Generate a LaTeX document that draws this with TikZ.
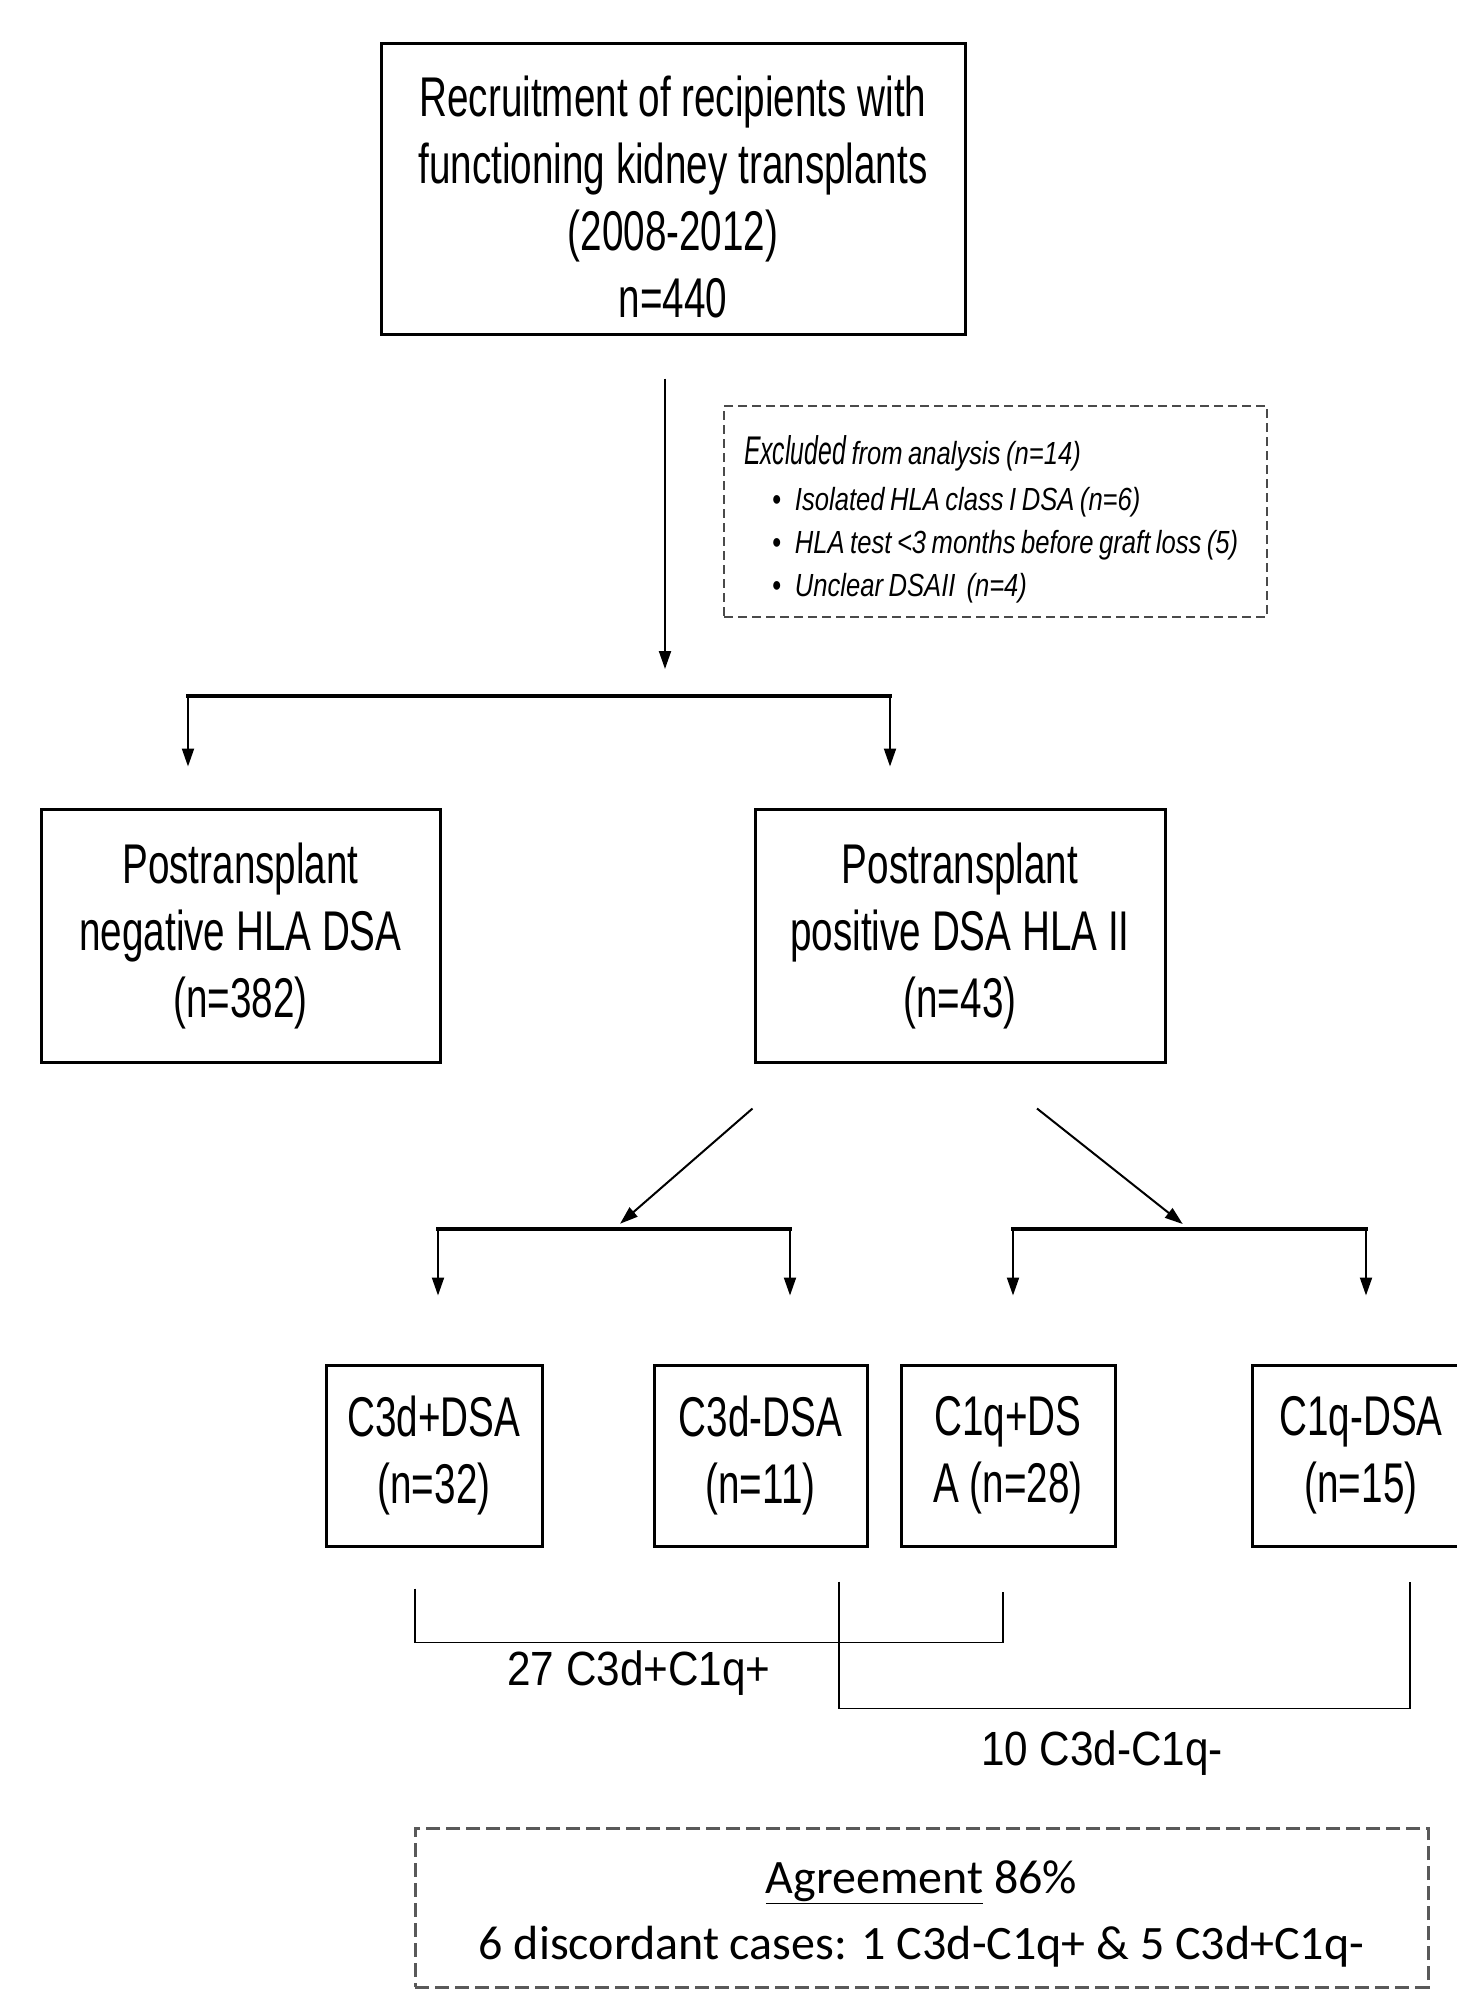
\documentclass[tikz,border=0pt]{standalone}
\usepackage{fontspec}
\usetikzlibrary{arrows.meta}
\newfontfamily\arialn[FakeStretch=0.69]{Liberation Sans}
\newfontfamily\arialm[FakeStretch=0.88]{Liberation Sans}
\newfontfamily\exclbig[FakeStretch=0.62]{Liberation Sans}
\newfontfamily\exclsmall[FakeStretch=0.8]{Liberation Sans}
\newfontfamily\calibri{Carlito}
\newcommand\tightspace{\spaceskip=5.5pt plus 1pt minus 1pt\relax}
\definecolor{dashgray}{HTML}{595959}
\definecolor{notegray}{HTML}{4A4A4A}

\begin{document}
\begin{tikzpicture}[x=1pt, y=-1pt,
    box/.style={draw, line width=3pt, inner sep=0pt, align=center, font=\arialn\fontsize{56}{67}\selectfont},
    arrow/.style={-{Triangle[length=18pt,width=12pt]}, line width=2pt},
    fork/.style={line width=4pt, line cap=rect},
    bracket/.style={line width=1.8pt},
    excl/.style={draw=notegray, dash pattern=on 9pt off 5pt, line width=2pt},
    note/.style={draw=dashgray, dash pattern=on 14pt off 6pt, line width=3pt}
]
\useasboundingbox (0,0) rectangle (1456,1991);

% boxes
\node[box, minimum width=584pt, minimum height=290pt] (recruit) at (673,189)
  {\rule{0pt}{56pt}Recruitment of recipients with\\functioning kidney transplants\\(2008-2012)\\n=440};
\node[excl, minimum width=543pt, minimum height=211pt, text width=511pt, inner xsep=16pt, inner ysep=0pt,
  align=left, font=\exclsmall\itshape\fontsize{32}{43}\selectfont]
  (excluded) at (995.5,511.5)
  {\tightspace\rule{0pt}{44pt}\hspace*{4pt}{\exclbig\itshape\fontsize{40}{43}\selectfont Excluded} from analysis (n=14)\\[3pt]
   \hspace*{32pt}\textbullet\hspace{14pt}Isolated HLA class I DSA (n=6)\\
   \hspace*{32pt}\textbullet\hspace{14pt}HLA test <3 months before graft loss (5)\\
   \hspace*{32pt}\textbullet\hspace{14pt}Unclear DSAII~~(n=4)};
\node[box, minimum width=399pt, minimum height=253pt] (negative) at (240.5,935.5)
  {Postransplant\\negative HLA DSA\\(n=382)};
\node[box, minimum width=410pt, minimum height=253pt] (positive) at (960,935.5)
  {Postransplant\\positive DSA HLA II\\(n=43)};
\node[box, minimum width=216pt, minimum height=181pt] (c3dpos) at (434,1455.5) {C3d+DSA\\(n=32)};
\node[box, minimum width=213pt, minimum height=181pt] (c3dneg) at (760.5,1455.5) {C3d-DSA\\(n=11)};
\node[box, minimum width=214pt, minimum height=181pt] (c1qpos) at (1008,1455.5) {C1q+DS\\A (n=28)};
\node[box, minimum width=218pt, minimum height=181pt] (c1qneg) at (1361,1455.5) {C1q-DSA\\(n=15)};

% forks
\coordinate (split) at (665,696);
\coordinate (splitw) at (188,696);
\coordinate (splite) at (890,696);
\coordinate (leftfork) at (614,1229);
\coordinate (leftforkw) at (438,1229);
\coordinate (leftforke) at (790,1229);
\coordinate (rightfork) at (1189,1229);
\coordinate (rightforkw) at (1013,1229);
\coordinate (rightforke) at (1366,1229);

\draw[arrow, shorten <=43pt, shorten >=27pt] (recruit.south -| split) -- (split);
\draw[fork] (splitw) -- (splite);
\draw[arrow, shorten >=41pt] (splitw) -- (splitw |- negative.north);
\draw[arrow, shorten >=41pt] (splite) -- (splite |- positive.north);

\draw[arrow, shorten >=8pt] ([shift={(-1pt,-45pt)}]positive.south west) -- (leftfork);
\draw[arrow, shorten >=8pt] ([shift={(77pt,-45pt)}]positive.south) -- (rightfork);
\draw[fork] (leftforkw) -- (leftforke);
\draw[fork] (rightforkw) -- (rightforke);
\draw[arrow, shorten >=68pt] (leftforkw) -- (leftforkw |- c3dpos.north);
\draw[arrow, shorten >=68pt] (leftforke) -- (leftforke |- c3dneg.north);
\draw[arrow, shorten >=68pt] (rightforkw) -- (rightforkw |- c1qpos.north);
\draw[arrow, shorten >=68pt] (rightforke) -- (rightforke |- c1qneg.north);

% concordance brackets
\draw[bracket] ([shift={(-19pt,-41pt)}]c3dpos.south) |- ([shift={(-5pt,-95pt)}]c1qpos.south)
  -- ([shift={(-5pt,-44pt)}]c1qpos.south);
\draw[bracket] ([shift={(78.5pt,-34pt)}]c3dneg.south) |- ([shift={(49pt,-161pt)}]c1qneg.south)
  -- ([shift={(49pt,-34pt)}]c1qneg.south);
\node[font=\arialm\fontsize{48}{48}\selectfont] (concpos) at (639,1673) {27 C3d+C1q+};
\node[font=\arialm\fontsize{48}{48}\selectfont] (concneg) at (1102,1753) {10 C3d-C1q-};

\node[note, minimum width=1013pt, minimum height=159pt, align=center,
  font=\calibri\fontsize{48}{66}\selectfont] (agreement) at (921.5,1907.5)
  {\rule{0pt}{46pt}\underline{Agreement} 86\%\\6 discordant cases: 1 C3d-C1q+ \& 5 C3d+C1q-};
\end{tikzpicture}
\end{document}
